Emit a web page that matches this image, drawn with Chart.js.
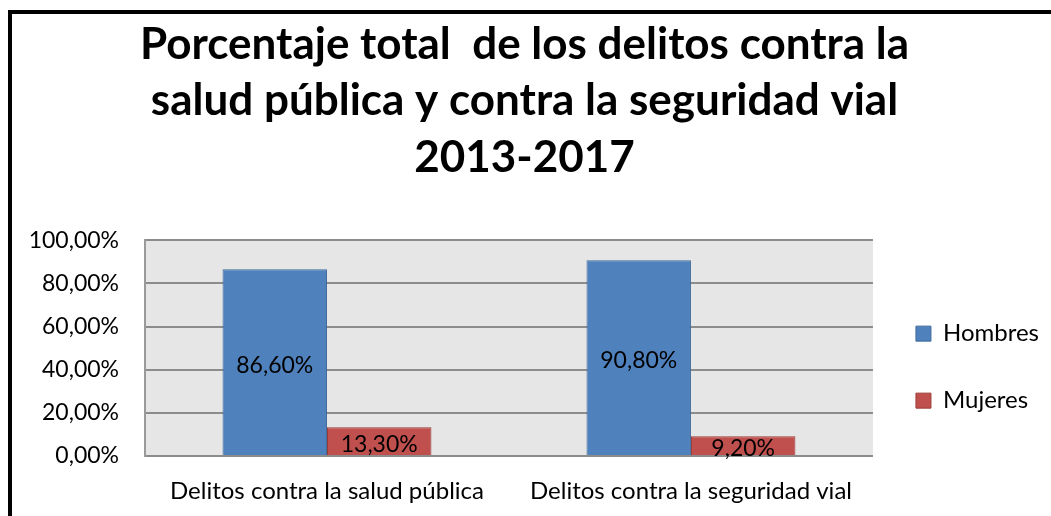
<!DOCTYPE html>
<html lang="es">
<head>
<meta charset="utf-8">
<title>Delitos contra la salud pública y la seguridad vial</title>
<script src="https://cdn.jsdelivr.net/npm/chart.js@4/dist/chart.umd.min.js"></script>
<style>
  html, body { margin: 0; padding: 0; background: #fff; overflow: hidden; }
  #marco { position: absolute; left: 8px; top: 10px; width: 1100px; height: 600px;
           border-left: 4px solid #000; border-top: 4px solid #000; }
  #wrap { position: absolute; left: 0; top: 0; width: 1051px; height: 516px; }
</style>
</head>
<body>
<div id="marco"></div>
<div id="wrap"><canvas id="grafico"></canvas></div>
<script>
  // Datos (porcentajes 2013-2017)
  const CATEGORIAS = ["Delitos contra la salud pública", "Delitos contra la seguridad vial"];
  const SERIES = ["Hombres", "Mujeres"];
  const HOMBRES = [86.6, 90.8];
  const MUJERES = [13.3, 9.2];
  const TITULO = ["Porcentaje total  de los delitos contra la", "salud pública y contra la seguridad vial", "2013-2017"];

  const FUENTE = "Lato, 'Open Sans', sans-serif";
  const pct = (v) => v.toFixed(2).replace(".", ",") + "%";

  // Fondo gris del área de trazado
  const fondo = {
    id: "fondo",
    beforeDraw(chart) {
      const a = chart.chartArea, ctx = chart.ctx;
      ctx.save();
      ctx.fillStyle = "#e6e6e6";
      ctx.fillRect(a.left, a.top, a.right - a.left, a.bottom - a.top);
      ctx.restore();
    },
  };

  // Etiquetas de valor centradas en cada barra
  const etiquetas = {
    id: "etiquetas",
    afterDatasetsDraw(chart) {
      const ctx = chart.ctx;
      ctx.save();
      ctx.fillStyle = "#000";
      ctx.font = "23px " + FUENTE;
      ctx.textAlign = "center";
      ctx.textBaseline = "middle";
      chart.data.datasets.forEach((ds, i) => {
        chart.getDatasetMeta(i).data.forEach((bar, j) => {
          ctx.fillText(pct(ds.data[j]), bar.x, (bar.y + bar.base) / 2 + 3);
        });
      });
      ctx.restore();
    },
  };

  new Chart(document.getElementById("grafico"), {
    type: "bar",
    data: {
      labels: CATEGORIAS,
      datasets: [
        { label: SERIES[0], data: HOMBRES, backgroundColor: "#4f81bd", borderColor: "#3f6a9c", borderWidth: 1 },
        { label: SERIES[1], data: MUJERES, backgroundColor: "#c0504d", borderColor: "#9b3b38", borderWidth: 1 },
      ],
    },
    options: {
      responsive: true, maintainAspectRatio: false, animation: false,
      layout: { padding: { left: 0, right: 2, top: 0, bottom: 0 } },
      datasets: { bar: { categoryPercentage: 0.574, barPercentage: 1 } },
      scales: {
        x: {
          grid: { display: false, drawTicks: false },
          border: { display: false },
          ticks: { color: "#000", font: { family: FUENTE, size: 24 }, padding: 21 },
          afterFit: (s) => { s.height = 60; },
        },
        y: {
          min: 0, max: 100,
          ticks: { stepSize: 20, color: "#000", font: { family: FUENTE, size: 23 }, padding: 26, callback: (v) => pct(v) },
          grid: { color: "#8c8c8c", lineWidth: 2, drawTicks: false },
          border: { display: true, color: "#9a9a9a", width: 2 },
          afterFit: (s) => { s.width = 145; },
        },
      },
      plugins: {
        title: {
          display: true, text: TITULO, color: "#000",
          font: { family: FUENTE, size: 44, weight: "bold", lineHeight: 1.29 },
          padding: { top: 16, bottom: 54 },
        },
        legend: {
          position: "right", fullSize: false,
          title: { display: true, text: "", font: { size: 20 }, padding: 7 },
          labels: { color: "#000", boxWidth: 15, boxHeight: 15, padding: 43, font: { family: FUENTE, size: 24 } },
        },
        tooltip: { enabled: false },
      },
    },
    plugins: [fondo, etiquetas],
  });
</script>
</body>
</html>
